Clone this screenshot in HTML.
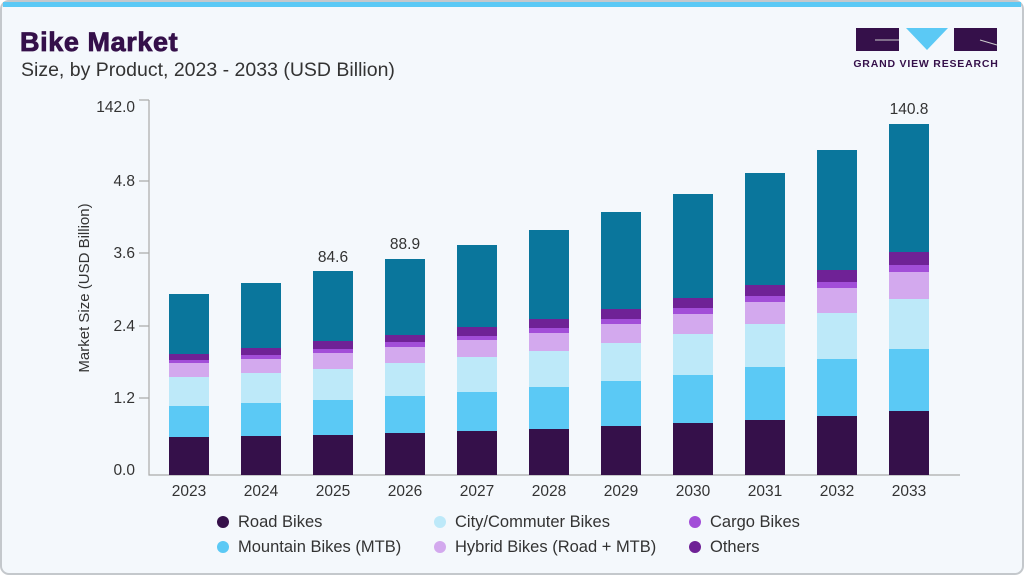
<!DOCTYPE html>
<html><head><meta charset="utf-8"><style>
body{margin:0;width:1025px;height:576px;background:#fff;overflow:hidden;font-family:"Liberation Sans",sans-serif}
</style></head><body>
<svg width="1025" height="576" viewBox="0 0 1025 576" xmlns="http://www.w3.org/2000/svg" font-family="Liberation Sans, sans-serif">
<rect x="1" y="1" width="1022" height="573" rx="8" fill="#f4f8fc" stroke="#c4c8cc" stroke-width="2"/>
<rect x="3" y="2" width="1018" height="5" fill="#5bc9f5"/>
<text x="20" y="51" font-size="27" font-weight="bold" fill="#35104a" stroke="#35104a" stroke-width="0.8" letter-spacing="0.6">Bike Market</text>
<text x="21" y="76" font-size="19.5" fill="#333">Size, by Product, 2023 - 2033 (USD Billion)</text>
<g>
<rect x="856" y="28" width="43" height="23" fill="#35104a"/>
<path d="M875 40 H899" stroke="#ccc" stroke-width="1"/>
<polygon points="906,28 948,28 927,50" fill="#5bc9f5"/>
<rect x="954" y="28" width="43" height="23" fill="#35104a"/>
<path d="M980 40 L997 45" stroke="#ccc" stroke-width="1"/>
<text x="926" y="67" font-size="10.5" font-weight="bold" fill="#35104a" text-anchor="middle" letter-spacing="0.8">GRAND VIEW RESEARCH</text>
</g>
<g stroke="#aaa" stroke-width="1.2" fill="none">
<path d="M149 100 V475 H960"/>
<path d="M139 100 H149 M139 181 H149 M139 253 H149 M139 326 H149 M139 398 H149"/>
</g>
<g font-size="15.5" fill="#333" text-anchor="end">
<text x="135" y="112">142.0</text><text x="135" y="186">4.8</text><text x="135" y="258">3.6</text>
<text x="135" y="331">2.4</text><text x="135" y="403">1.2</text><text x="135" y="475">0.0</text>
</g>
<text transform="translate(89,288) rotate(-90)" font-size="15" fill="#333" text-anchor="middle">Market Size (USD Billion)</text>
<g id="bars"></g>
<g font-size="15.5" fill="#333" text-anchor="middle">
<text x="333" y="262">84.6</text><text x="405" y="249">88.9</text><text x="909" y="114">140.8</text>
</g>
<g font-size="15.5" fill="#333" text-anchor="middle" id="xl"></g>
<g font-size="16.5" fill="#333">
<circle cx="223" cy="522" r="6" fill="#35104a"/><text x="238" y="527">Road Bikes</text>
<circle cx="440" cy="522" r="6" fill="#bde9f9"/><text x="455" y="527">City/Commuter Bikes</text>
<circle cx="695" cy="522" r="6" fill="#a24ed8"/><text x="710" y="527">Cargo Bikes</text>
<circle cx="223" cy="547" r="6" fill="#5bc9f5"/><text x="238" y="552">Mountain Bikes (MTB)</text>
<circle cx="440" cy="547" r="6" fill="#d3a9ee"/><text x="455" y="552">Hybrid Bikes (Road + MTB)</text>
<circle cx="695" cy="547" r="6" fill="#6f2296"/><text x="710" y="552">Others</text>
</g>
</svg>
<script>
var d=[[437,406,377,363,360,354,294],[436,403,373,359,355,348,283],[435,400,369,353,349,341,271],[433,396,363,347,342,335,259],[431,392,357,340,336,327,245],[429,387,351,333,328,319,230],[426,381,343,324,319,309,212],[423,375,334,314,308,298,194],[420,367,324,302,296,285,173],[416,359,313,288,282,270,150],[411,349,299,272,265,252,124]];
var c=["#35104a","#5bc9f5","#bde9f9","#d3a9ee","#a24ed8","#6f2296","#0a769c"];
var ns="http://www.w3.org/2000/svg",g=document.getElementById("bars"),xl=document.getElementById("xl");
d.forEach(function(b,i){var cx=189+72*i,prev=475;b.forEach(function(t,j){var r=document.createElementNS(ns,"rect");r.setAttribute("x",cx-20);r.setAttribute("width",40);r.setAttribute("y",t);r.setAttribute("height",prev-t);r.setAttribute("fill",c[j]);g.appendChild(r);prev=t;});
var tx=document.createElementNS(ns,"text");tx.setAttribute("x",cx);tx.setAttribute("y",496);tx.textContent=2023+i;xl.appendChild(tx);});
</script>
</body></html>
